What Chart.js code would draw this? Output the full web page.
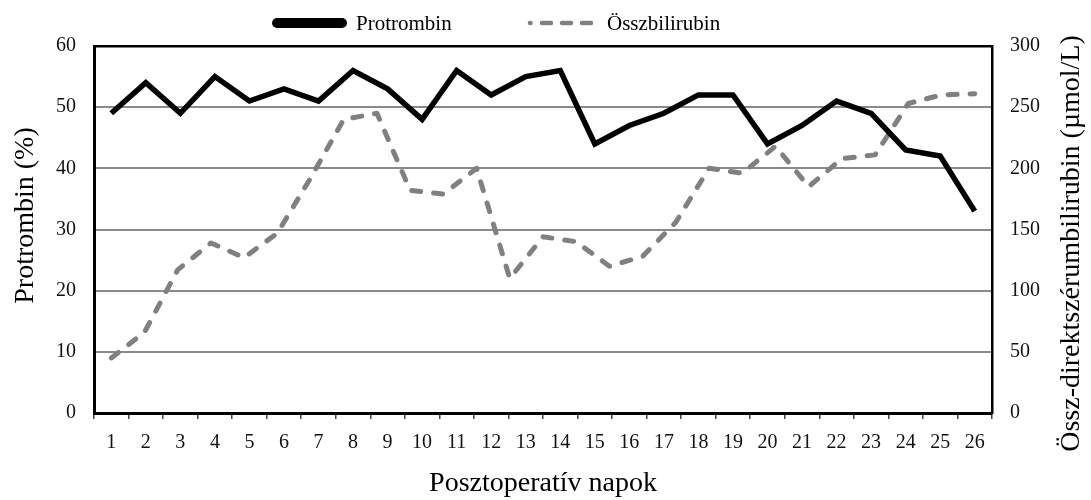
<!DOCTYPE html>
<html lang="hu">
<head>
<meta charset="utf-8">
<title>Protrombin és összbilirubin</title>
<script src="https://cdn.jsdelivr.net/npm/chart.js@4.4.1/dist/chart.umd.min.js"></script>
<style>
    html, body { margin: 0; padding: 0; background: #fff; }
    #wrap { position: relative; width: 1091px; height: 500px; }
</style>
</head>
<body>
<div id="wrap"><canvas id="chart"></canvas></div>
<script>
// Posztoperatív napok (x categories)
const days = ["1", "2", "3", "4", "5", "6", "7", "8", "9", "10", "11", "12", "13",
    "14", "15", "16", "17", "18", "19", "20", "21", "22", "23", "24", "25", "26"];

// Protrombin (%), one value per day
const protrombin = [49, 54, 49, 55, 51, 53, 51, 56, 53, 48, 56, 52, 55,
    56, 44, 47, 49, 52, 52, 44, 47, 51, 49, 43, 42, 33];

// Összbilirubin (µmol/L) - the dashed curve has 27 evenly spaced points
// running from day 1 to day 26 in the source figure
const bilirubin = [45, 66, 117, 139, 127, 147, 192, 240, 245, 182, 179, 200, 110,
    144, 140, 120, 128, 156, 200, 196, 218, 185, 208, 211, 253, 260, 261];

// axis ranges
const leftAxis = { min: 0, max: 60, step: 10 };
const rightAxis = { min: 0, max: 300, step: 50 };

const SERIF = "'Liberation Serif', 'Times New Roman', serif";
const colors = {
    black: "#000000",
    grey: "#808080",
    grid: "#8a8a8a",
    text: "#111111",
};

const bilirubinPoints = bilirubin.map((v, i) => ({ x: i, y: v }));
// spread the 27 points so the first sits on day 1 and the last on day 26
const span = (bilirubin.length - 1) / (days.length - 1) * days.length;
const x2Min = -span / (2 * days.length);
const x2Max = bilirubin.length - 1 - x2Min;

function drawSegment(ctx, x1, x2, y) {
    ctx.beginPath();
    ctx.moveTo(x1, y);
    ctx.lineTo(x2, y);
    ctx.stroke();
}

function drawVerticalTitle(ctx, text, x, y) {
    ctx.save();
    ctx.translate(x, y);
    ctx.rotate(-Math.PI / 2);
    ctx.font = "28px " + SERIF;
    ctx.fillStyle = colors.black;
    ctx.textAlign = "center";
    ctx.textBaseline = "middle";
    ctx.fillText(text, 0, 0);
    ctx.restore();
}

// legend on top + both y titles reading bottom-to-top
const figureExtras = {
    id: "figureExtras",
    afterDraw(chart) {
        const ctx = chart.ctx;
        const ds = chart.data.datasets;
        const area = chart.chartArea;
        ctx.save();

        // legend
        const ly = 23;
        ctx.lineCap = "round";
        ctx.setLineDash([]);
        ctx.strokeStyle = ds[0].borderColor;
        ctx.lineWidth = 10;
        drawSegment(ctx, 277, 342, ly);

        ctx.strokeStyle = ds[1].borderColor;
        ctx.lineWidth = 4.5;
        drawSegment(ctx, 530, 530.5, ly);
        drawSegment(ctx, 542, 551, ly);
        drawSegment(ctx, 562, 571, ly);
        drawSegment(ctx, 582, 591, ly);

        ctx.fillStyle = colors.black;
        ctx.font = "21px " + SERIF;
        ctx.textAlign = "left";
        ctx.textBaseline = "middle";
        ctx.fillText(ds[0].label, 356, ly + 1);
        ctx.fillText(ds[1].label, 607, ly + 1);
        ctx.restore();

        const mid = (area.top + area.bottom) / 2;
        drawVerticalTitle(ctx, "Protrombin (%)", 26, mid - 14);
        drawVerticalTitle(ctx, "Össz-direktszérumbilirubin (µmol/L)", 1072, mid + 14);
    },
};

const canvas = document.getElementById("chart");

new Chart(canvas, {
    type: "line",
    data: {
        labels: days,
        datasets: [
            {
                label: "Protrombin",
                data: protrombin,
                xAxisID: "x",
                yAxisID: "y",
                borderColor: colors.black,
                backgroundColor: colors.black,
                borderWidth: 5.5,
                borderJoinStyle: "miter",
                pointRadius: 0,
                tension: 0,
                order: 1,
            },
            {
                label: "Összbilirubin",
                data: bilirubinPoints,
                xAxisID: "x2",
                yAxisID: "y1",
                borderColor: colors.grey,
                backgroundColor: colors.grey,
                borderWidth: 5,
                borderDash: [9, 13],
                borderCapStyle: "round",
                borderJoinStyle: "round",
                pointRadius: 0,
                tension: 0,
                order: 2,
            },
        ],
    },
    options: {
        responsive: true,
        maintainAspectRatio: false,
        animation: false,
        layout: {
            padding: { top: 46, left: 0, right: 0, bottom: 0 },
        },
        plugins: {
            legend: { display: false },
            title: { display: false },
            tooltip: { enabled: false },
        },
        scales: {
            x: {
                type: "category",
                position: "bottom",
                offset: true,
                grid: {
                    offset: true,
                    drawOnChartArea: false,
                    drawTicks: true,
                    tickLength: 6,
                    color: "#444",
                    lineWidth: 1.5,
                },
                border: { display: true, color: colors.black, width: 3 },
                ticks: {
                    autoSkip: false,
                    maxRotation: 0,
                    padding: 12,
                    color: colors.text,
                    font: { family: SERIF, size: 20 },
                },
                title: {
                    display: true,
                    text: "Posztoperatív napok",
                    color: colors.black,
                    font: { family: SERIF, size: 28 },
                    padding: { top: 0, bottom: 0 },
                },
                afterFit(scale) {
                    scale.height = 87;
                },
            },
            x2: {
                type: "linear",
                display: false,
                min: x2Min,
                max: x2Max,
            },
            y: {
                position: "left",
                min: leftAxis.min,
                max: leftAxis.max,
                ticks: {
                    stepSize: leftAxis.step,
                    padding: 18,
                    color: colors.text,
                    font: { family: SERIF, size: 20 },
                },
                grid: {
                    drawTicks: false,
                    color: (c) => (c.tick && (c.tick.value === leftAxis.max || c.tick.value === 0) ? colors.black : colors.grid),
                    lineWidth: (c) => (c.tick && c.tick.value === leftAxis.max ? 2.5 : 2),
                },
                border: { display: true, color: colors.black, width: 3 },
                afterFit(scale) {
                    scale.width = 94;
                },
            },
            y1: {
                position: "right",
                min: rightAxis.min,
                max: rightAxis.max,
                ticks: {
                    stepSize: rightAxis.step,
                    padding: 18,
                    color: colors.text,
                    font: { family: SERIF, size: 20 },
                },
                grid: { display: false, drawTicks: false },
                border: { display: true, color: colors.black, width: 2.5 },
                afterFit(scale) {
                    scale.width = 99;
                },
            },
        },
    },
    plugins: [figureExtras],
});
</script>
</body>
</html>
